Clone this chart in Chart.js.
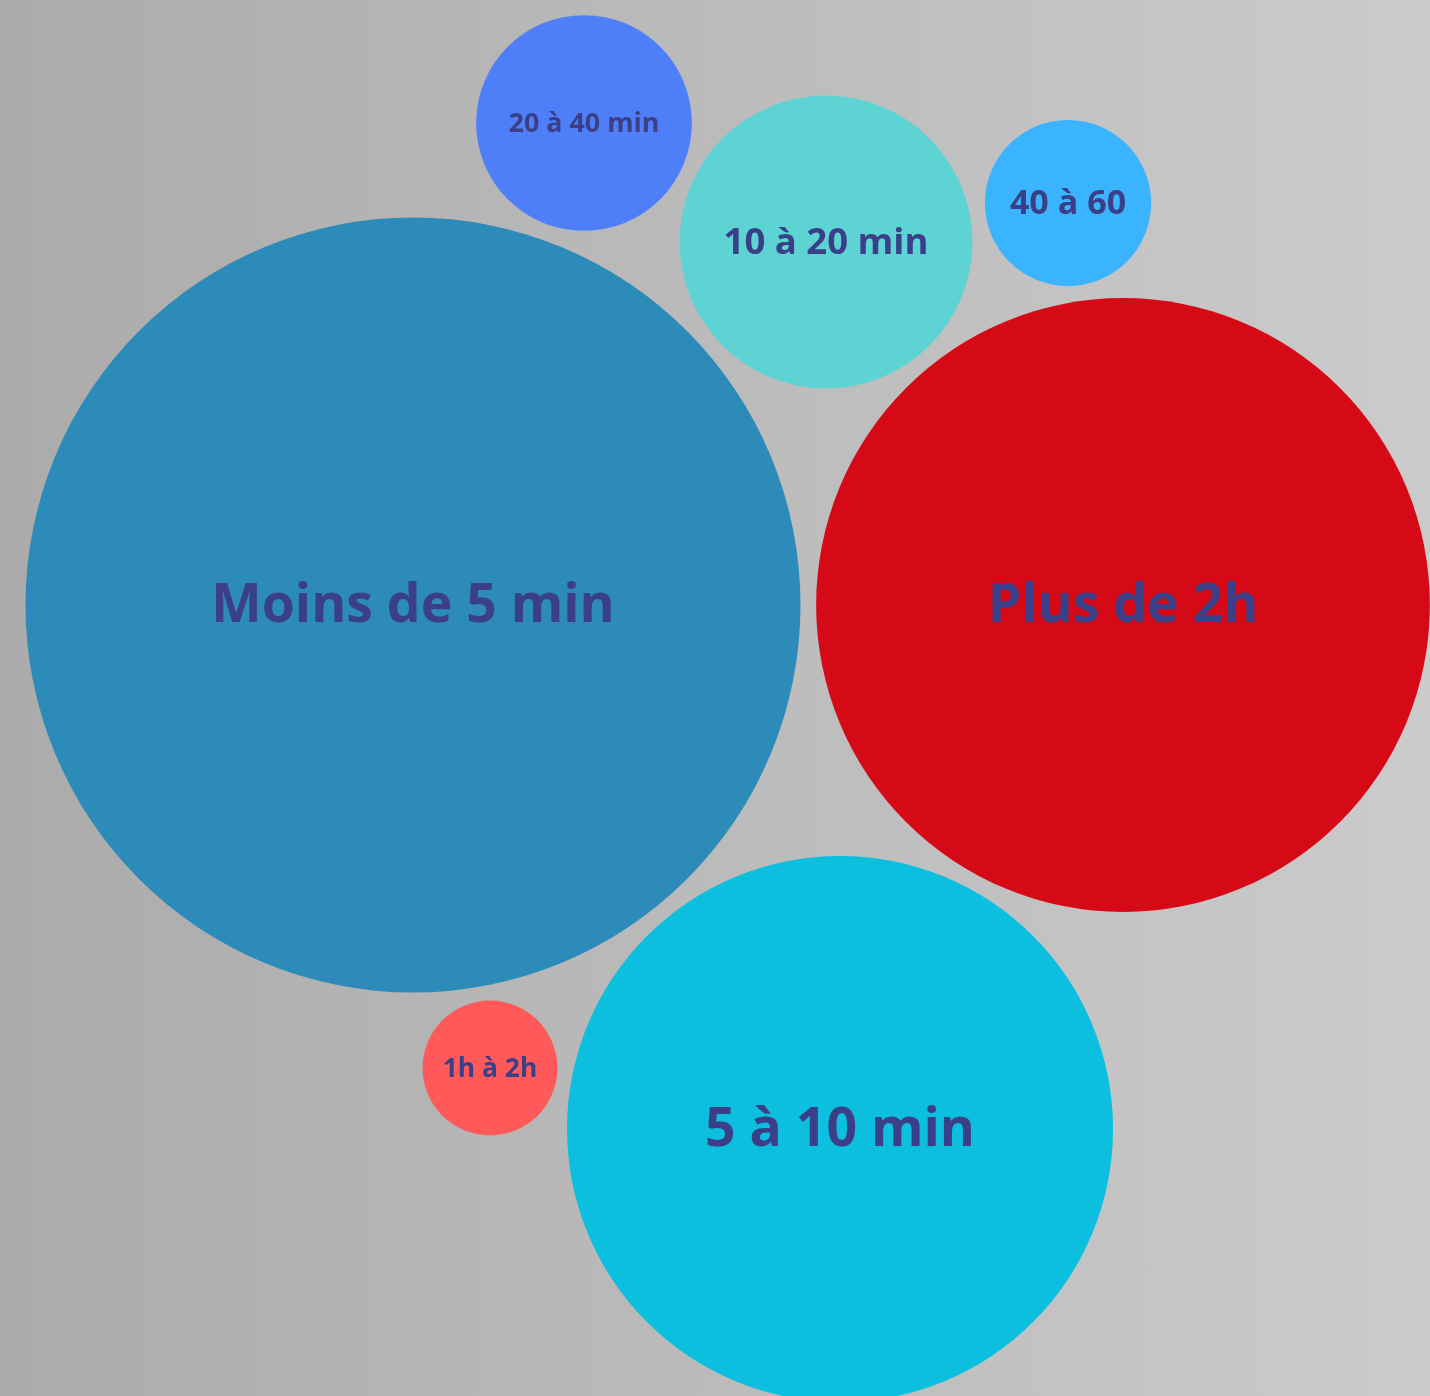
<!DOCTYPE html>
<html lang="fr">
<head>
  <meta charset="UTF-8">
  <title>Durée</title>
  <script src="https://cdn.jsdelivr.net/npm/chart.js"></script>
  <style>
    html, body {
      margin: 0;
      padding: 0;
      overflow: hidden;
    }
    body {
      background: linear-gradient(to right, #ababab, #cbcbcb);
    }
    .wrap {
      position: relative;
      width: 1430px;
      height: 1396px;
    }
  </style>
</head>
<body>
  <div class="wrap"><canvas id="bubbles"></canvas></div>

  <script>
    // share of answers (%)
    const categories = ['Moins de 5 min', '5 à 10 min', '10 à 20 min', '20 à 40 min', '40 à 60', '1h à 2h', 'Plus de 2h'];
    const shares = [41.3, 20.5, 5.9, 3.2, 1.9, 1.25, 25.9];
    const colours = ['#2d8bb9', '#0dbfde', '#5dd3d3', '#4f7ff8', '#3ab4ff', '#ff5959', '#d60a17'];

    // packed layout (page pixels), separate from the data
    const centres = [[413, 605], [840, 1129], [826, 242], [584, 123], [1068, 203], [490, 1068], [1123, 605]];
    const pxPerSqrt = 60.3;
    const labelColour = '#3a3f87';
    const fontFamily = '"Open Sans", sans-serif';

    const points = shares.map((v, i) => ({ x: centres[i][0], y: centres[i][1], v: v }));

    const labelPlugin = {
      id: 'bubbleLabels',
      afterDatasetsDraw(chart) {
        const ctx = chart.ctx;
        const meta = chart.getDatasetMeta(0);
        ctx.save();
        ctx.fillStyle = labelColour;
        ctx.textAlign = 'center';
        ctx.textBaseline = 'middle';
        meta.data.forEach((el, i) => {
          const r = el.options.radius;
          ctx.font = 'bold 100px ' + fontFamily;
          const w = ctx.measureText(categories[i]).width;
          // fit to 70% of the diameter, capped
          const size = Math.min(53.5, 100 * (r * 2 * 0.7) / w);
          ctx.font = 'bold ' + size.toFixed(1) + 'px ' + fontFamily;
          ctx.fillText(categories[i], el.x, el.y + size * 0.04);
        });
        ctx.restore();
      }
    };

    function draw() {
      new Chart(document.getElementById('bubbles'), {
        type: 'bubble',
        data: {
          labels: categories,
          datasets: [{
            data: points,
            backgroundColor: colours,
            borderWidth: 0,
            clip: false,
            radius: c => pxPerSqrt * Math.sqrt(c.raw.v),
            hoverRadius: 0
          }]
        },
        options: {
          responsive: true,
          maintainAspectRatio: false,
          animation: false,
          events: [],
          layout: { padding: 0, autoPadding: false },
          plugins: { legend: { display: false }, tooltip: { enabled: false } },
          scales: {
            x: { type: 'linear', min: 0, max: 1430, display: false },
            y: { type: 'linear', min: 0, max: 1396, reverse: true, display: false }
          }
        },
        plugins: [labelPlugin]
      });
    }

    document.fonts.load('bold 40px "Open Sans"').then(draw, draw);
  </script>
</body>
</html>
